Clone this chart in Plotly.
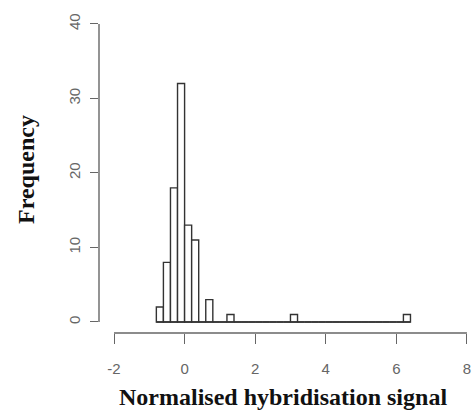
import plotly.graph_objects as go

# Histogram data (bin width 0.2)
bin_left = [round(-0.8 + 0.2 * i, 1) for i in range(36)]
counts = [2, 8, 18, 32, 13, 11, 0, 3,
          0, 0, 1,
          0, 0, 0, 0, 0, 0, 0, 0,
          1,
          0, 0, 0, 0, 0, 0, 0, 0, 0, 0, 0, 0, 0, 0, 0,
          1]
bin_width = 0.2
x_ticks = [-2, 0, 2, 4, 6, 8]
x_tick_labels = ["-2", "0", "2", "4", "6", "8"]
y_ticks = [0, 10, 20, 30, 40]
y_tick_labels = ["0", "10", "20", "30", "40"]

centers = [b + bin_width / 2 for b in bin_left]

fig = go.Figure()
fig.add_trace(go.Bar(
    x=centers, y=counts, width=bin_width,
    marker=dict(color="white", line=dict(color="#333333", width=1.4)),
    showlegend=False, hoverinfo="skip"))
# zero-height bins drawn as a baseline (as R does)
fig.add_trace(go.Scatter(
    x=[min(bin_left), max(bin_left) + bin_width], y=[0, 0], mode="lines",
    line=dict(color="#333333", width=1.4), showlegend=False, hoverinfo="skip"))

axis_col = "#666666"
tick_font = dict(family="Liberation Sans, Arial, sans-serif", size=15, color="#666666")
title_font = dict(family="Liberation Serif, Times New Roman, serif", size=24, color="#111111")

fig.update_layout(
    width=474, height=416,
    margin=dict(l=99, r=0, t=16, b=83),
    paper_bgcolor="white", plot_bgcolor="white",
    xaxis=dict(range=[-2.425, 8.2], tickvals=x_ticks, ticktext=x_tick_labels,
               ticks="outside", ticklen=10, ticklabelstandoff=12,
               tickwidth=1.4, tickcolor=axis_col, showgrid=False, zeroline=False,
               showline=False, tickfont=tick_font, automargin=False),
    yaxis=dict(range=[-1.48, 41.07], tickvals=y_ticks, ticktext=y_tick_labels,
               ticks="outside", ticklen=8, ticklabelstandoff=4,
               tickwidth=1.4, tickcolor=axis_col, showgrid=False, zeroline=False,
               showline=False, tickangle=-90, tickfont=tick_font, automargin=False),
    shapes=[
        dict(type="line", xref="x", yref="paper", x0=min(x_ticks), x1=max(x_ticks), y0=0, y1=0,
             line=dict(color=axis_col, width=1.4)),
        dict(type="line", xref="paper", yref="y", x0=0, x1=0, y0=min(y_ticks), y1=max(y_ticks),
             line=dict(color=axis_col, width=1.4)),
    ],
    annotations=[
        dict(text="<b>Normalised hybridisation signal</b>", xref="paper", yref="paper",
             x=0.491, y=-0.202, xanchor="center", yanchor="middle", showarrow=False,
             font=title_font),
        dict(text="<b>Frequency</b>", xref="paper", yref="paper", textangle=-90,
             x=-0.195, y=0.517, xanchor="center", yanchor="middle", showarrow=False,
             font=title_font),
    ],
)

fig.write_html("out.html", config={"displayModeBar": False},
               post_script="document.body.style.margin='0px';document.body.style.overflow='hidden';")
